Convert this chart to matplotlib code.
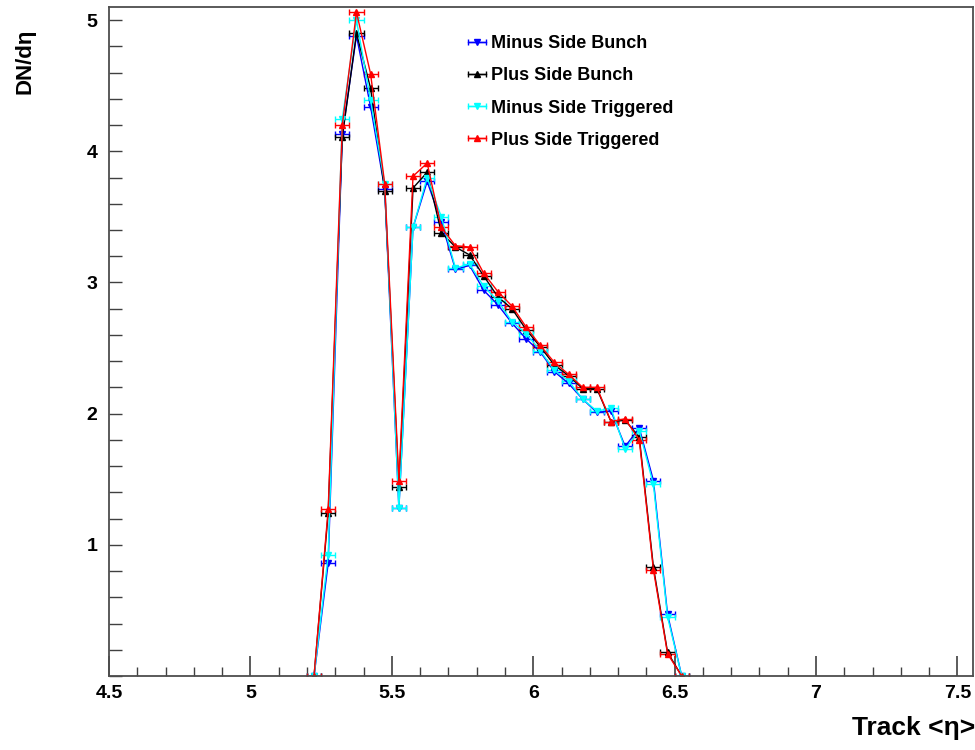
import numpy as np
import matplotlib
matplotlib.use('Agg')
import matplotlib.pyplot as plt
from matplotlib.ticker import MultipleLocator, FuncFormatter

### Track <eta> bin centres and dN/deta for the four samples
eta= [5.225,5.275,5.325,5.375,5.425,5.475,5.525,5.575,5.625,5.675,
      5.725,5.775,5.825,5.875,5.925,5.975,6.025,6.075,6.125,6.175,
      6.225,6.275,6.325,6.375,6.425,6.475,6.525]
minus_bunch= [0,0.86,4.13,4.88,4.34,3.71,1.28,3.42,3.77,3.46,
              3.10,3.13,2.94,2.83,2.69,2.57,2.47,2.32,2.23,2.11,
              2.01,2.02,1.75,1.89,1.49,0.47,0]
plus_bunch= [0,1.24,4.11,4.90,4.48,3.70,1.44,3.72,3.84,3.38,
             3.27,3.21,3.05,2.89,2.80,2.64,2.51,2.37,2.29,2.19,
             2.19,1.94,1.95,1.82,0.83,0.18,0]
minus_trig= [0,0.92,4.25,5.00,4.39,3.75,1.28,3.42,3.80,3.50,
             3.11,3.14,2.97,2.86,2.70,2.61,2.48,2.33,2.25,2.11,
             2.02,2.04,1.73,1.87,1.46,0.45,0]
plus_trig= [0,1.27,4.20,5.06,4.59,3.75,1.49,3.81,3.91,3.42,
            3.28,3.27,3.07,2.93,2.82,2.66,2.52,2.39,2.30,2.20,
            2.20,1.94,1.96,1.80,0.81,0.17,0]
bin_half= 0.025

series= [(minus_bunch,'Minus Side Bunch','#0000ff','v'),
         (plus_bunch,'Plus Side Bunch','#000000','^'),
         (minus_trig,'Minus Side Triggered','#00ffff','v'),
         (plus_trig,'Plus Side Triggered','#ff0000','^')]


def main():
    plt.rcParams['font.family']= ['Liberation Sans','DejaVu Sans']
    fig=plt.figure(figsize=(9.75,7.5),dpi=100)
    ax= fig.add_axes([109/975,74/750,864/975,669/750])

    for vals,lab,col,mk in series:
        ax.errorbar(eta,vals,xerr=bin_half,color=col,lw=1,marker=mk,ms=5,
                    elinewidth=1,capsize=2.5,capthick=1,label=lab)

    ax.set_xlim(4.5,7.555)
    ax.set_ylim(0,5.1)

    ### ROOT-like ticks (inward, long majors on x)
    ax.xaxis.set_major_locator(MultipleLocator(0.5))
    ax.xaxis.set_minor_locator(MultipleLocator(0.1))
    ax.xaxis.set_major_formatter(FuncFormatter(lambda v,p: '{:g}'.format(v)))
    ax.yaxis.set_major_locator(MultipleLocator(1))
    ax.yaxis.set_minor_locator(MultipleLocator(0.2))
    ax.tick_params(axis='both',which='both',direction='in',color='0.25')
    ax.tick_params(axis='x',which='major',length=14.4,width=1.2,pad=6.5)
    ax.tick_params(axis='x',which='minor',length=6.5,width=1)
    ax.tick_params(axis='y',which='major',length=9.4,width=1,pad=8.5)
    ax.tick_params(axis='y',which='minor',length=9.4,width=1)
    ax.set_yticks([1,2,3,4,5])
    ax.set_yticklabels(['1','2','3','4','5'])
    ax.tick_params(axis='both',labelsize=14)
    for tl in ax.get_xticklabels()+ax.get_yticklabels():
        tl.set_fontweight('bold')
    for sp in ax.spines.values():
        sp.set_linewidth(1.3)
        sp.set_color('0.3')

    ### Axis titles in ROOT position
    fig.text(25/975,1-29/750,'DN/d\u03b7',rotation=90,ha='center',va='top',
             fontsize=16,fontweight='bold')
    fig.text(975/975,1-728/750,'Track <\u03b7>',ha='right',va='center',
             fontsize=19,fontweight='bold')

    ### Legend without frame
    leg= ax.legend(loc='upper left',bbox_to_anchor=(461/975,1-28/750),
                   bbox_transform=fig.transFigure,frameon=False,
                   prop={'size':13,'weight':'bold'},handlelength=1.0,
                   handletextpad=0.25,labelspacing=0.84,borderaxespad=0)

    fig.savefig('out.png',dpi=100)
    return

if __name__ == "__main__":
    main()
